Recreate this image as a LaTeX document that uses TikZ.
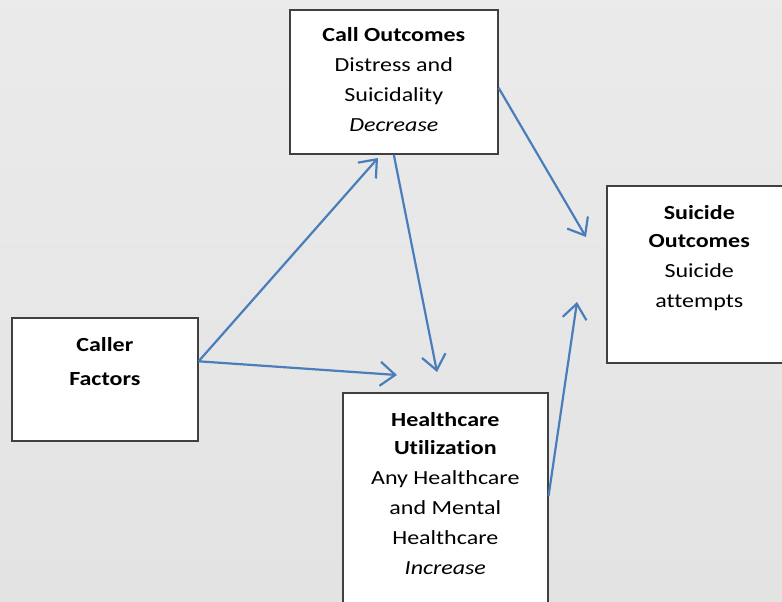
\documentclass[tikz,border=0pt]{standalone}
\usepackage{fontspec}
\setmainfont{Carlito}[FakeStretch=1.2, Ligatures=NoCommon, RawFeature=-liga]
\usetikzlibrary{positioning, arrows.meta}
\definecolor{linkblue}{HTML}{4A7EBB}
\definecolor{boxline}{HTML}{404040}
\begin{document}
\begin{tikzpicture}[x=1pt, y=-1pt,
  box/.style={draw=boxline, line width=1.6pt, fill=white, anchor=north west},
  txt/.style={align=center, inner sep=0pt, font=\fontsize{20}{30}\selectfont},
  link/.style={-{Straight Barb[length=15pt, width=24pt]}, line width=2.2pt, draw=linkblue}]
\fill[top color=black!8, bottom color=black!11] (0,0) rectangle (782,602);
\useasboundingbox (0,0) rectangle (782,602);
\node[box, minimum width=208pt, minimum height=144pt] (call) at (289,9) {};
\node[box, minimum width=186pt, minimum height=123pt] (caller) at (11,317) {};
\node[box, minimum width=185pt, minimum height=177pt] (suicide) at (606,185) {};
\node[box, minimum width=205pt, minimum height=230pt] (health) at (342,392) {};
\node[txt, below=18pt of call.north] (calltext) {\textbf{Call Outcomes}\\Distress and\\Suicidality\\\textit{Decrease}};
\node[txt, below=20pt of caller.north] (callertext) {\textbf{Caller}\\[4pt]\textbf{Factors}};
\node[txt, below=20pt of suicide.north] (suicidetext) {\textbf{Suicide}\\[-2pt]\textbf{Outcomes}\\Suicide\\attempts};
\node[txt, below=20pt of health.north] (healthtext) {\textbf{Healthcare}\\[-2pt]\textbf{Utilization}\\Any Healthcare\\and Mental\\Healthcare\\\textit{Increase}};
% arrow tips
\coordinate (tipcall) at (378,158);
\coordinate (tiphealth) at (397,375);
\coordinate (tipdown) at (437,372);
\coordinate (tipsuicideA) at (586,237);
\coordinate (tipsuicideB) at (577,302);
% Arrows
\draw[link] ([yshift=18pt]caller.east) -- (tipcall);
\draw[link] ([yshift=18pt]caller.east) -- (tiphealth);
\draw[link] (call.south) -- (tipdown);
\draw[link] ([yshift=-6pt]call.east) -- (tipsuicideA);
\draw[link] ([yshift=12pt]health.east) -- (tipsuicideB);
\end{tikzpicture}
\end{document}
